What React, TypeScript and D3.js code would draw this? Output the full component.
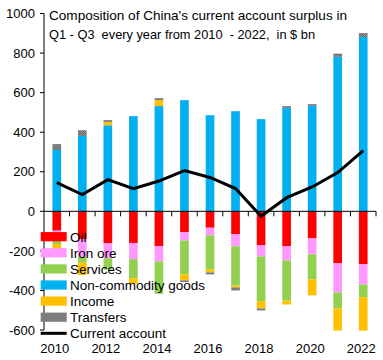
import * as d3 from 'd3'

const years = ['2010', '2011', '2012', '2013', '2014', '2015', '2016', '2017', '2018', '2019', '2020', '2021', '2022']
const yearLabels = ['2010', '2012', '2014', '2016', '2018', '2020', '2022']
const yTicks = [-600, -400, -200, 0, 200, 400, 600, 800, 1000]

// $ bn, Q1-Q3
const oil = [-98, -140, -162, -160, -177, -105, -83, -116, -172, -177, -137, -263, -268]
const ironOre = [-52, -90, -75, -82, -76, -42, -39, -61, -56, -71, -81, -147, -102]
const services = [-15, -30, -58, -96, -164, -172, -172, -198, -226, -203, -126, -81, -64]
const goods = [310, 381, 435, 481, 532, 562, 486, 506, 466, 523, 533, 781, 881]
const income = [-28, -62, 17, -28, 30, -30, -15, -10, -37, -20, -81, -112, -169]
const transfers = [30, 29, 9, 0, 10, -9, -10, -15, -10, 9, 9, 16, 20]
const currentAccount = [145, 85, 160, 115, 153, 206, 171, 115, -25, 69, 123, 196, 307]

const series = [
  { name: 'Oil', values: oil, color: '#ff0000' },
  { name: 'Iron ore', values: ironOre, color: '#ff99ff' },
  { name: 'Services', values: services, color: '#92d050' },
  { name: 'Non-commodity goods', values: goods, color: '#00b0f0' },
  { name: 'Income', values: income, color: '#ffc000' },
  { name: 'Transfers', values: transfers, color: 'url(#grayDots)' },
]

const W = 383
const H = 360
const font = '"Liberation Sans", Arial, sans-serif'

export default function App() {
  const x = d3.scaleBand<string>().domain(years).range([44, 376]).padding(0)
  const y = d3.scaleLinear().domain([-600, 1000]).range([330, 13.5])
  const barW = x.bandwidth() * 0.34

  // stack positives up from zero and negatives down from zero, in series order
  const rects: { key: string; x: number; y: number; h: number; fill: string }[] = []
  years.forEach((yr, i) => {
    let pos = 0
    let neg = 0
    series.forEach(s => {
      const v = s.values[i]
      if (!v) return
      let y0: number, y1: number
      if (v > 0) { y0 = pos; y1 = pos + v; pos = y1 }
      else { y0 = neg; y1 = neg + v; neg = y1 }
      const top = y(Math.max(y0, y1))
      const bot = y(Math.min(y0, y1))
      rects.push({ key: s.name + yr, x: (x(yr) || 0) + (x.bandwidth() - barW) / 2, y: top, h: bot - top, fill: s.color })
    })
  })

  const line = d3.line<number>()
    .x((_, i) => (x(years[i]) || 0) + x.bandwidth() / 2)
    .y(d => y(d))

  const legendY0 = 236.7
  const legendStep = 16.1

  return (
    <svg width={W} height={H} style={{ position: 'absolute', left: 0, top: 0, background: '#fff' }} fontFamily={font}>
      <defs>
        <pattern id="grayDots" width="2" height="2" patternUnits="userSpaceOnUse">
          <rect width="2" height="2" fill="#8c8c8c" />
          <rect width="1" height="1" fill="#6e6e6e" />
          <rect x="1" y="1" width="1" height="1" fill="#6e6e6e" />
        </pattern>
      </defs>

      {rects.map(r => (
        <rect key={r.key} x={r.x} y={r.y} width={barW} height={Math.max(0, r.h)} fill={r.fill} />
      ))}

      {/* y axis */}
      <line x1={44} x2={44} y1={y(1000)} y2={y(-600)} stroke="#000" />
      {yTicks.map(t => (
        <g key={t}>
          <line x1={40} x2={44} y1={y(t)} y2={y(t)} stroke="#000" />
          <text x={35} y={y(t)} dy="0.36em" textAnchor="end" fontSize={13} fill="#000">{t}</text>
        </g>
      ))}

      {/* x axis at zero */}
      <line x1={44} x2={376} y1={y(0)} y2={y(0)} stroke="#000" />
      {years.map((yr, i) => (
        <line key={yr} x1={(x(yr) || 0) + x.bandwidth()} x2={(x(yr) || 0) + x.bandwidth()} y1={y(0)} y2={y(0) + 5} stroke="#000" />
      ))}
      {yearLabels.map(yr => (
        <text key={yr} x={(x(yr) || 0) + x.bandwidth() / 2 - 2} y={352.5} textAnchor="middle" fontSize={13} fill="#000">{yr}</text>
      ))}

      <path d={line(currentAccount) || ''} fill="none" stroke="#000" strokeWidth={3} strokeLinejoin="miter" />

      {/* legend */}
      {series.map((s, i) => (
        <g key={s.name} transform={`translate(0,${legendY0 + i * legendStep})`}>
          <rect x={40.7} y={-4.6} width={26} height={9.2} fill={s.color} />
          <text x={70} y={5} fontSize={13.5} fill="#000">{s.name}</text>
        </g>
      ))}
      <g transform={`translate(0,${legendY0 + 6 * legendStep})`}>
        <line x1={40.7} x2={66.7} y1={0} y2={0} stroke="#000" strokeWidth={3} />
        <text x={70} y={5} fontSize={13.5} fill="#000">Current account</text>
      </g>

      {/* title */}
      <text x={49} y={19.5} fontSize={13} fill="#000" textLength={298} lengthAdjust="spacingAndGlyphs">Composition of China's current account surplus in</text>
      <text x={49} y={38.5} fontSize={13} fill="#000" textLength={266} lengthAdjust="spacingAndGlyphs" style={{ whiteSpace: 'pre' }}>Q1 - Q3  every year from 2010  - 2022,  in $ bn</text>
    </svg>
  )
}
